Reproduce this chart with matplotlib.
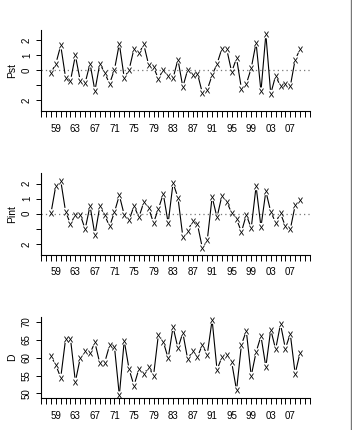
import matplotlib
matplotlib.use("Agg")
import matplotlib.pyplot as plt
import numpy as np
from matplotlib.lines import Line2D

plt.rcParams["font.family"] = ["Liberation Sans", "DejaVu Sans"]

years = np.arange(1958, 2010)

pst = [-0.18, 0.44, 1.64, -0.50, -0.69, 0.98, -0.71, -0.84, 0.44, -1.36,
       0.44, -0.18, -0.89, 0.04, 1.76, -0.50, 0.04, 1.42, 1.11, 1.71,
       0.36, 0.20, -0.56, 0.04, -0.40, -0.53, 0.71, -1.11, 0.04, -0.31,
       -0.22, -1.51, -1.29, -0.33, 0.42, 1.44, 1.38, -0.11, 0.80, -1.22,
       -0.91, 0.13, 1.82, -1.40, 2.38, -1.56, -0.36, -1.07, -0.91, -1.07,
       0.71, 1.38]

pint = [0.04, 1.87, 2.20, 0.13, -0.67, -0.07, -0.07, -1.02, 0.53, -1.40,
        0.49, -0.09, -0.84, 0.11, 1.22, -0.07, -0.44, 0.53, -0.24, 0.76,
        0.36, -0.60, 0.33, 1.31, -0.62, 2.04, 1.07, -1.51, -1.11, -0.51,
        -0.71, -2.27, -1.76, 1.11, -0.24, 1.20, 0.80, 0.04, -0.36, -1.20,
        -0.07, -0.96, 1.82, -0.87, 1.49, 0.13, -0.58, 0.04, -0.84, -1.04,
        0.56, 0.91]

d = [60.3, 57.9, 54.4, 65.2, 65.2, 53.3, 59.9, 61.7, 61.2, 64.2,
     58.4, 58.6, 63.4, 63.0, 49.5, 64.7, 56.7, 52.2, 56.8, 55.3,
     57.4, 54.9, 66.4, 64.4, 59.8, 68.5, 62.6, 66.9, 59.5, 61.9,
     60.2, 63.5, 60.8, 70.5, 56.6, 60.1, 60.6, 58.7, 50.9, 63.6,
     67.4, 54.9, 61.5, 66.0, 57.4, 67.8, 62.3, 69.3, 62.5, 66.6,
     55.5, 61.3]

tick_years = np.arange(1956, 2012)
label_years = np.arange(1959, 2008, 4)

panels = [
    ("Pst", pst, (-2.7, 2.7), [-2, -1, 0, 1, 2], ["2", "", "0", "1", "2"], True),
    ("Pint", pint, (-2.7, 2.7), [-2, -1, 0, 1, 2], ["2", "", "0", "1", "2"], True),
    ("D", d, (48.66, 71.34), [50, 55, 60, 65, 70], ["50", "55", "60", "65", "70"], False),
]

W, H = 352, 430
fig = plt.figure(figsize=(W / 100, H / 100), dpi=100)
fig.patch.set_facecolor("white")

left, width = 41 / W, 269 / W
bottoms = [1 - 111 / H, 1 - 254.5 / H, 1 - 398.3 / H]
height = 81.5 / H


def draw_type_b(ax, x, y, gap=4.0):
    # R-style type="b": character points, segments broken around each point
    trans = ax.transData
    pts = trans.transform(np.column_stack([x, y]))
    inv = trans.inverted()
    for (x0, y0), (x1, y1) in zip(pts[:-1], pts[1:]):
        dx, dy = x1 - x0, y1 - y0
        seg = np.hypot(dx, dy)
        if seg <= 2 * gap:
            continue
        ux, uy = dx / seg, dy / seg
        a = inv.transform([[x0 + ux * gap, y0 + uy * gap],
                           [x1 - ux * gap, y1 - uy * gap]])
        ax.plot(a[:, 0], a[:, 1], color="black", lw=0.8, solid_capstyle="butt")
    ax.plot(x, y, ls="none", marker=r"$\mathregular{x}$", ms=4.2,
            color="black", mew=0)


for (name, vals, ylim, yt, ytl, zero_line), b in zip(panels, bottoms):
    ax = fig.add_axes([left, b, width, height])
    ax.set_xlim(1955.96, 2011.04)
    ax.set_ylim(*ylim)
    for side in ("top", "right"):
        ax.spines[side].set_visible(False)
    for side in ("left", "bottom"):
        ax.spines[side].set_linewidth(0.8)

    if zero_line:
        ax.axhline(0, ls=(0, (1, 2.5)), color="#777777", lw=0.9)

    draw_type_b(ax, years, vals)

    ax.set_xticks(tick_years)
    ax.set_xticklabels([f"{yr % 100:02d}" if yr in label_years else ""
                        for yr in tick_years])
    ax.set_yticks(yt)
    ax.set_yticklabels(ytl, rotation=90, va="center")
    ax.tick_params(axis="x", length=4.3, width=0.7, pad=4.8, labelsize=7)
    ax.tick_params(axis="y", length=3.6, width=0.7, pad=3.0, labelsize=7)
    ax.set_ylabel(name, fontsize=7.5, labelpad=3.5)

fig.add_artist(Line2D([351 / W, 351 / W], [0, 1], color="#777777", lw=1.0,
                      transform=fig.transFigure))

fig.savefig("out.png", dpi=100)
